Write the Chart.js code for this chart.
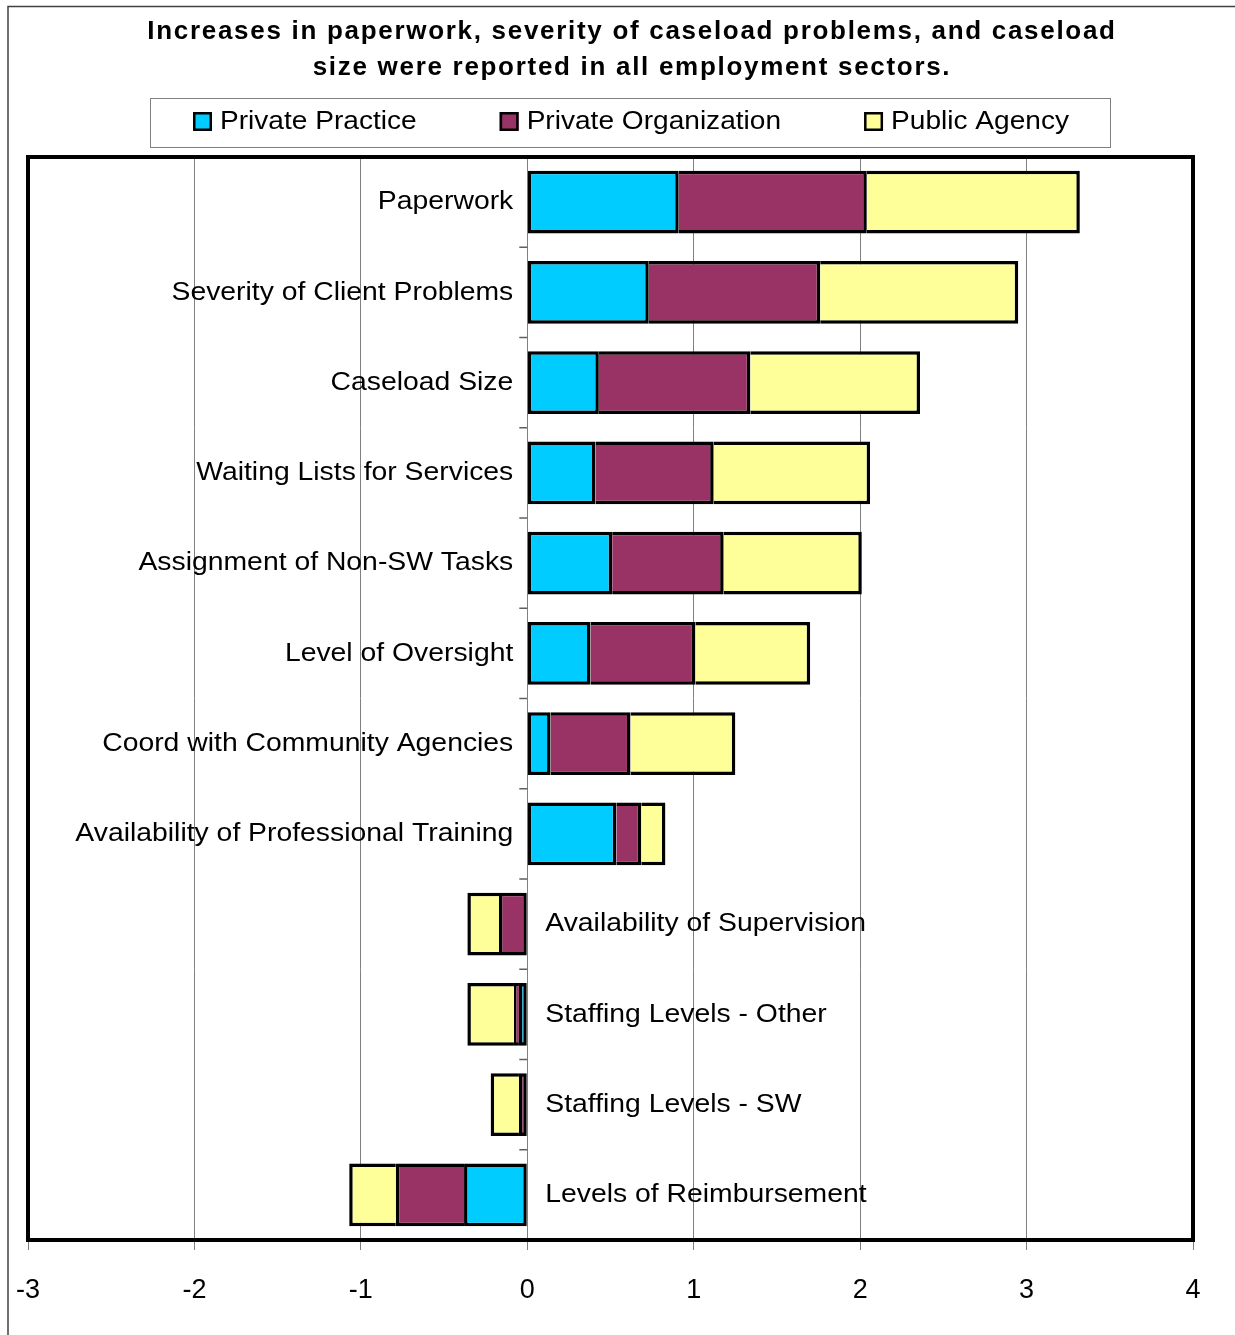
<!DOCTYPE html>
<html>
<head>
<meta charset="utf-8">
<script src="https://cdn.jsdelivr.net/npm/chart.js@4/dist/chart.umd.min.js"></script>
<style>
  html, body { margin: 0; padding: 0; background: #fff; }
  #wrap { width: 1235px; height: 1335px; }
</style>
</head>
<body>
<div id="wrap"><canvas id="chart" width="1235" height="1335"></canvas></div>
<script>
// datos
var categories = [
    'Paperwork',
    'Severity of Client Problems',
    'Caseload Size',
    'Waiting Lists for Services',
    'Assignment of Non-SW Tasks',
    'Level of Oversight',
    'Coord with Community Agencies',
    'Availability of Professional Training',
    'Availability of Supervision',
    'Staffing Levels - Other',
    'Staffing Levels - SW',
    'Levels of Reimbursement'
];
var privatePractice     = [0.91, 0.73, 0.43, 0.41, 0.51, 0.38, 0.14, 0.535, 0, -0.05, 0, -0.38];
var privateOrganization = [1.13, 1.03, 0.91, 0.71, 0.67, 0.63, 0.48, 0.15, -0.17, -0.03, -0.05, -0.41];
var publicAgency        = [1.28, 1.19, 1.02, 0.94, 0.83, 0.69, 0.63, 0.145, -0.19, -0.28, -0.17, -0.28];
var seriesNames = ['Private Practice', 'Private Organization', 'Public Agency'];
var xTicks = [-3, -2, -1, 0, 1, 2, 3, 4];
var chartTitle = [
    'Increases in paperwork, severity of caseload problems, and caseload',
    'size were reported in all employment sectors.'
];

var FONT = '"Liberation Sans", Arial, sans-serif';
var colors = ['#00CCFF', '#993366', '#FFFF99'];
var allSeries = [privatePractice, privateOrganization, publicAgency];

// borde en la base solo si no hay otro segmento debajo
function skipBorder(ctx) {
    var d = ctx.datasetIndex, i = ctx.dataIndex;
    var v = allSeries[d][i];
    for (var k = 0; k < d; k++) {
        var p = allSeries[k][i];
        if (p !== 0 && (p > 0) === (v > 0)) return 'start';
    }
    return false;
}

// texto estirado en horizontal como en el original
function stretchText(ctx, text, x, y, align, sx) {
    ctx.save();
    ctx.translate(x, y);
    ctx.scale(sx, 1);
    ctx.textAlign = align;
    ctx.textBaseline = 'middle';
    ctx.fillText(text, 0, 0);
    ctx.restore();
}

var decorPlugin = {
    id: 'decor',
    beforeDraw: function (chart) {
        var ctx = chart.ctx;
        ctx.save();
        ctx.fillStyle = '#fff';
        ctx.fillRect(0, 0, chart.width, chart.height);
        ctx.strokeStyle = '#404040';
        ctx.lineWidth = 1.5;
        ctx.beginPath();
        ctx.moveTo(8, chart.height);
        ctx.lineTo(8, 6.5);
        ctx.lineTo(chart.width, 6.5);
        ctx.stroke();
        ctx.restore();
    },
    afterDraw: function (chart) {
        var ctx = chart.ctx;
        var area = chart.chartArea;
        var xs = chart.scales.x, ys = chart.scales.y;
        var x0 = xs.getPixelForValue(0);
        ctx.save();

        // marcas de categoria sobre el eje en cero
        ctx.strokeStyle = '#606060';
        ctx.lineWidth = 1.5;
        ctx.beginPath();
        for (var k = 1; k < categories.length; k++) {
            var yb = ys.getPixelForValue(k - 0.5);
            ctx.moveTo(x0 - 8, yb);
            ctx.lineTo(x0, yb);
        }
        ctx.stroke();

        // marco del area de trazado
        ctx.strokeStyle = '#000';
        ctx.lineWidth = 4;
        ctx.strokeRect(area.left, area.top, area.right - area.left, area.bottom - area.top);

        // etiquetas de categoria junto al cero
        ctx.fillStyle = '#000';
        ctx.font = '26px ' + FONT;
        categories.forEach(function (name, i) {
            var total = privatePractice[i] + privateOrganization[i] + publicAgency[i];
            var y = ys.getPixelForValue(i);
            if (total >= 0) stretchText(ctx, name, x0 - 14, y, 'right', 1.09);
            else stretchText(ctx, name, x0 + 18, y, 'left', 1.09);
        });

        // titulo
        ctx.font = 'bold 26px ' + FONT;
        ctx.letterSpacing = '1.7px';
        stretchText(ctx, chartTitle[0], 632, 32, 'center', 1);
        stretchText(ctx, chartTitle[1], 632, 68, 'center', 1);
        ctx.letterSpacing = '0px';

        // leyenda
        ctx.strokeStyle = '#808080';
        ctx.lineWidth = 1;
        ctx.strokeRect(150.5, 98.5, 960, 49);
        ctx.font = '26px ' + FONT;
        var sx = 1.08, gap = 83, box = 19, textOff = 27;
        var widths = seriesNames.map(function (n) { return ctx.measureText(n).width * sx; });
        var total = widths.reduce(function (a, w) { return a + textOff + w; }, 0) + gap * (seriesNames.length - 1);
        var lx = 631 - total / 2;
        seriesNames.forEach(function (n, i) {
            ctx.fillStyle = colors[i];
            ctx.fillRect(lx, 112, box, box);
            ctx.strokeStyle = '#000';
            ctx.lineWidth = 2.5;
            ctx.strokeRect(lx + 1.25, 113.25, box - 2.5, box - 2.5);
            ctx.fillStyle = '#000';
            stretchText(ctx, n, lx + textOff, 122, 'left', sx);
            lx += textOff + widths[i] + gap;
        });
        ctx.restore();
    }
};

var ctx = document.getElementById('chart').getContext('2d');
var chart = new Chart(ctx, {
    type: 'bar',
    data: {
        labels: categories,
        datasets: allSeries.map(function (values, d) {
            return {
                label: seriesNames[d],
                data: values,
                backgroundColor: colors[d],
                borderColor: '#000',
                borderWidth: 3.5,
                borderSkipped: skipBorder,
                categoryPercentage: 0.85,
                barPercentage: 0.82
            };
        })
    },
    options: {
        indexAxis: 'y',
        responsive: false,
        animation: false,
        layout: { padding: { left: 28, right: 42, top: 157, bottom: 4.6 } },
        plugins: {
            legend: { display: false },
            title: { display: false },
            tooltip: { enabled: false }
        },
        scales: {
            x: {
                type: 'linear',
                stacked: true,
                min: xTicks[0],
                max: xTicks[xTicks.length - 1],
                afterBuildTicks: function (scale) {
                    scale.ticks = xTicks.map(function (v) { return { value: v }; });
                },
                afterFit: function (scale) {
                    scale.paddingLeft = 0;
                    scale.paddingRight = 0;
                },
                ticks: {
                    color: '#000',
                    padding: 24,
                    maxRotation: 0,
                    font: { family: FONT, size: 27 },
                    callback: function (v) { return String(v); }
                },
                grid: { color: '#808080', lineWidth: 1, tickLength: 10 },
                border: { display: false }
            },
            y: {
                stacked: true,
                display: false
            }
        }
    },
    plugins: [decorPlugin]
});
</script>
</body>
</html>
